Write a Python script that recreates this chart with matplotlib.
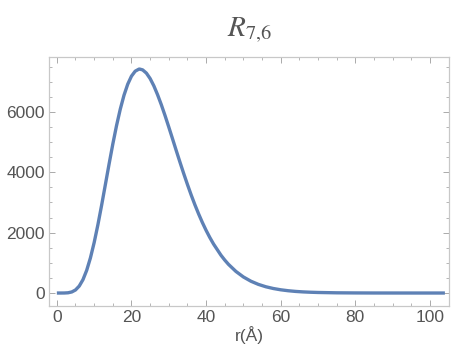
import matplotlib
matplotlib.use("Agg")
import matplotlib.pyplot as plt
from matplotlib.ticker import MultipleLocator

r_values = [0, 1, 2, 3, 4, 5, 6, 7, 8, 9, 10, 11, 12, 13, 14, 15, 16, 17, 18,
            19, 20, 21, 22, 22.2, 23, 24, 25, 26, 27, 28, 29, 30, 31, 32, 33,
            34, 35, 36, 37, 38, 39, 40, 41, 42, 44, 45, 46, 48, 50, 52, 54, 56,
            58, 60, 62, 64, 66, 68, 70, 75, 80, 85, 90, 95, 100, 104]
R_values = [0, 0, 1, 8, 35, 101, 230, 442, 752, 1163, 1670, 2259, 2907, 3588,
            4272, 4934, 5547, 6091, 6553, 6919, 7185, 7350, 7418, 7420, 7393,
            7286, 7106, 6864, 6569, 6239, 5879, 5500, 5112, 4720, 4335, 3959,
            3597, 3250, 2924, 2620, 2337, 2077, 1839, 1623, 1250, 1092, 950,
            715, 532, 392, 287, 208, 150, 107, 76, 53, 37, 26, 18, 7, 3, 1,
            0.5, 0.2, 0.1, 0]
x_ticks = [0, 20, 40, 60, 80, 100]
y_ticks = [0, 2000, 4000, 6000]

fig = plt.figure(figsize=(4.51, 3.54), dpi=100)
ax = fig.add_axes([49/451, 1 - 305.7/354, 400/451, (305.7 - 57)/354])

ax.plot(r_values, R_values, color="#5E81B5", lw=2.4, solid_capstyle="butt",
        solid_joinstyle="round")

ax.set_xlim(-2.1, 105.1)
ax.set_ylim(-420, 7820)
ax.set_xticks(x_ticks)
ax.set_yticks(y_ticks)
ax.xaxis.set_minor_locator(MultipleLocator(5))
ax.yaxis.set_minor_locator(MultipleLocator(500))

frame_col = "#c8c8c8"
for s in ax.spines.values():
    s.set_color(frame_col)
    s.set_linewidth(0.9)

label_col = "#555555"
font = "Liberation Sans"
ax.tick_params(which="both", direction="in", top=True, right=True,
               color="#aaaaaa", labelcolor=label_col, labelsize=12.5)
ax.tick_params(which="major", length=4, width=0.7, pad=3)
ax.tick_params(which="minor", length=2.2, width=0.6)
for lab in ax.get_xticklabels() + ax.get_yticklabels():
    lab.set_fontfamily(font)

ax.set_xlabel("r(Å)", fontsize=12.5, color=label_col, family=font, labelpad=1)

plt.rcParams["mathtext.fontset"] = "stix"
fig.text(250/451, 1 - 30/354, r"$R_{7{,}6}$", ha="center", va="center",
         fontsize=21, color="#555555")

fig.savefig("out.png", dpi=100)
